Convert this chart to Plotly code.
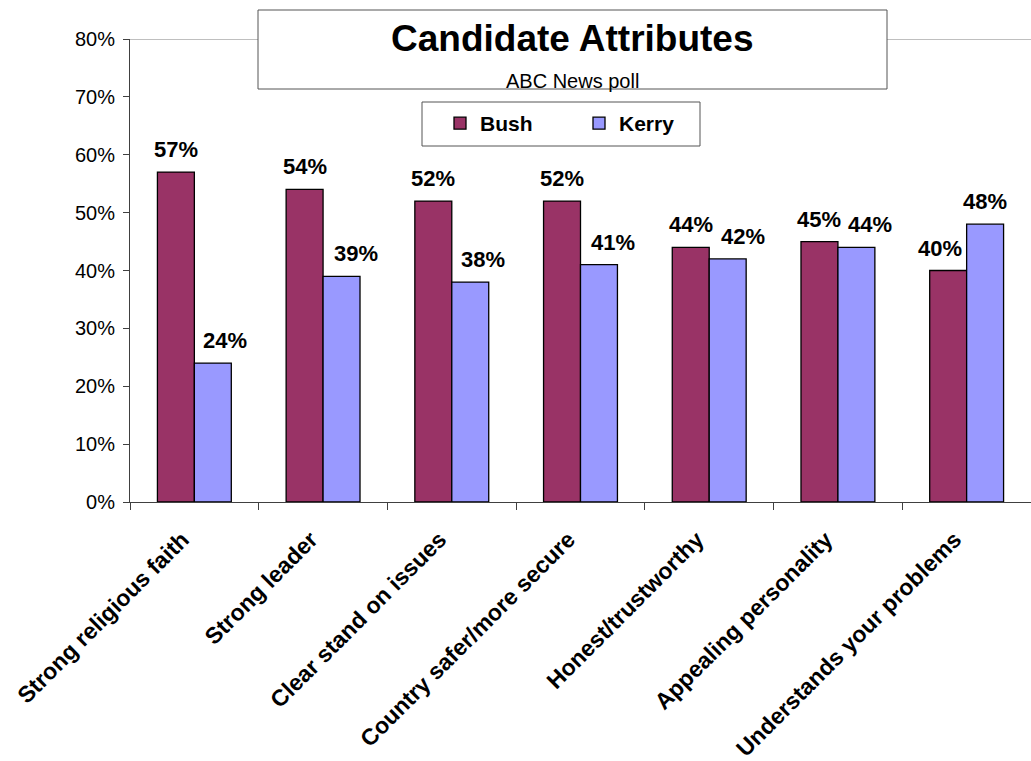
import plotly.graph_objects as go

categories = ["Strong religious faith", "Strong leader", "Clear stand on issues",
              "Country safer/more secure", "Honest/trustworthy",
              "Appealing personality", "Understands your problems"]
bush = [0.57, 0.54, 0.52, 0.52, 0.44, 0.45, 0.40]
kerry = [0.24, 0.39, 0.38, 0.41, 0.42, 0.44, 0.48]
y_ticks = [0, 0.1, 0.2, 0.3, 0.4, 0.5, 0.6, 0.7, 0.8]

FONT = "Liberation Sans, Arial, sans-serif"
W, H = 1031, 761
ML, MR, MT, MB = 130, 0, 39, 259
PW = W - ML - MR
PH = H - MT - MB


def px2x(px):
    return (px - ML) / PW


def px2y(py):
    return (H - MB - py) / PH


fig = go.Figure()
fig.add_trace(go.Bar(name="Bush", x=categories, y=bush,
                     marker=dict(color="#993366", line=dict(color="#000000", width=1.3))))
fig.add_trace(go.Bar(name="Kerry", x=categories, y=kerry,
                     marker=dict(color="#9999FF", line=dict(color="#000000", width=1.3))))

# data labels
cat_w = PW / len(categories)
bar_w = cat_w * (1 - 0.426) / 2
bush_nudge = [0, 0, 0, 0, 0, 0, -8]
kerry_nudge = [12, 14, 13, 14, 15, 14, 0]
annotations = []
for i, c in enumerate(categories):
    for vals, sgn, nud in ((bush, -1, bush_nudge), (kerry, 1, kerry_nudge)):
        annotations.append(dict(
            x=c, y=vals[i], xref="x", yref="y",
            text=f"{round(vals[i]*100)}%", showarrow=False,
            xanchor="center", yanchor="bottom",
            xshift=sgn * bar_w / 2 + nud[i], yshift=8,
            font=dict(family=FONT, size=22, color="#000000", weight="bold")))

# title box text
annotations.append(dict(x=px2x(572), y=px2y(38), xref="paper", yref="paper",
                        text="<b>Candidate Attributes</b>", showarrow=False,
                        xanchor="center", yanchor="middle",
                        font=dict(family=FONT, size=37, color="#000000")))
annotations.append(dict(x=px2x(572), y=px2y(81), xref="paper", yref="paper",
                        text="ABC News poll", showarrow=False,
                        xanchor="center", yanchor="middle",
                        font=dict(family=FONT, size=20, color="#000000")))

shapes = [
    dict(type="line", xref="x domain", yref="y", x0=0, x1=1, y0=0.8, y1=0.8,
         line=dict(color="#808080", width=1)),
    dict(type="rect", xref="paper", yref="paper",
         x0=px2x(258), x1=px2x(887), y0=px2y(89), y1=px2y(10),
         fillcolor="#FFFFFF", line=dict(color="#555555", width=1)),
    # legend frame
    dict(type="rect", xref="paper", yref="paper",
         x0=px2x(422), x1=px2x(700), y0=px2y(146), y1=px2y(102),
         fillcolor="#FFFFFF", line=dict(color="#555555", width=1), layer="below"),
]

fig.update_layout(
    width=W, height=H,
    margin=dict(l=ML, r=MR, t=MT, b=MB, autoexpand=False),
    paper_bgcolor="#FFFFFF", plot_bgcolor="#FFFFFF",
    barmode="group", bargap=0.426, bargroupgap=0,
    font=dict(family=FONT, color="#000000"),
    showlegend=True,
    legend=dict(orientation="h", x=px2x(440), y=px2y(103),
                xanchor="left", yanchor="top",
                borderwidth=0, bgcolor="rgba(0,0,0,0)",
                font=dict(family=FONT, size=21, color="#000000", weight="bold"),
                entrywidth=94, itemwidth=30, tracegroupgap=0),
    xaxis=dict(type="category", range=[-0.5, len(categories) - 0.5],
               showline=True, linecolor="#404040", linewidth=1,
               ticks="outside", ticklen=7, tickcolor="#404040",
               tickson="boundaries", tickangle=-45,
               tickfont=dict(family=FONT, size=23, color="#000000", weight="bold"),
               showgrid=False, zeroline=False, ticklabelstandoff=14,
               ticklabelshift=-12),
    yaxis=dict(range=[0, 0.8], tickvals=y_ticks, tickformat=".0%",
               showline=True, linecolor="#404040", linewidth=1,
               ticks="outside", ticklen=6, tickcolor="#404040",
               tickfont=dict(family=FONT, size=20, color="#000000"),
               showgrid=False, zeroline=False, ticklabelstandoff=4),
    annotations=annotations,
    shapes=shapes,
)

fig.write_html("out.html",
               config={"displayModeBar": False},
               post_script="document.body.style.margin='0';"
                           "document.body.style.overflow='hidden';")
